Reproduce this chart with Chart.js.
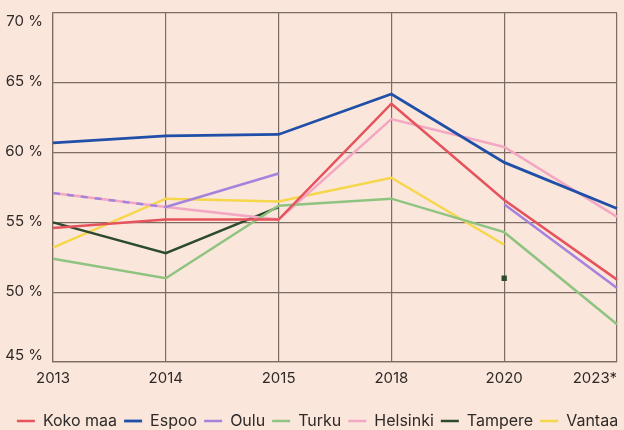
<!DOCTYPE html>
<html>
<head>
<meta charset="utf-8">
<script src="https://cdn.jsdelivr.net/npm/chart.js@4"></script>
<style>
  html, body { margin: 0; padding: 0; background: #fbe6dc; }
  #wrap { width: 624px; height: 430px; position: relative; }
</style>
</head>
<body>
<div id="wrap"><canvas id="myChart"></canvas></div>
<script>
// Vuodet ja sarjat
const vuodet = ['2013', '2014', '2015', '2018', '2020', '2023*'];
const kokoMaa = [54.6, 55.2, 55.2, 63.5, 56.6, 50.9];
const espoo = [60.7, 61.2, 61.3, 64.2, 59.3, 56.0];
const oulu = [57.1, 56.1, 58.5, null, 56.3, 50.3];
const turku = [52.4, 51.0, 56.2, 56.7, 54.3, 47.7];
const helsinki = [57.1, 56.1, 55.2, 62.4, 60.4, 55.4];
const tampere = [55.0, 52.8, 56.1, null, 51.0, null];
const vantaa = [53.2, 56.7, 56.5, 58.2, 53.4, null];
const yTicks = [45, 50, 55, 60, 65, 70];

const fontti = 'Inter, "Noto Sans", sans-serif';
const tekstiVari = '#2e2a28';
const gridVari = '#7c6c64';

// yksittäinen piste näkyviin, muuten ei pisteitä
function pisteKoko(ctx) {
  const d = ctx.dataset.data;
  const i = ctx.dataIndex;
  if (d[i] == null) return 0;
  const ed = i > 0 ? d[i - 1] : null;
  const se = i < d.length - 1 ? d[i + 1] : null;
  return (ed == null && se == null) ? 2 : 0;
}

function sarja(label, data, color, extra) {
  return Object.assign({
    label: label,
    data: data,
    borderColor: color,
    backgroundColor: color,
    borderWidth: 2.5,
    pointRadius: pisteKoko,
    pointStyle: 'rect',
    pointHoverRadius: 0,
    tension: 0,
    spanGaps: false
  }, extra || {});
}

// akselien tekstit itse: reunimmaiset tasataan sisäänpäin
const akseliTekstit = {
  id: 'akseliTekstit',
  afterLayout(chart) {
    // selite vähän alemmas ja oikealle
    const l = chart.legend;
    l.top += 9; l.bottom += 9;
    l.left += 9; l.right += 9;
  },
  afterDraw(chart) {
    const x = chart.scales.x;
    const y = chart.scales.y;
    const a = chart.chartArea;
    const c = chart.ctx;
    c.save();
    c.font = '15px ' + fontti;
    c.fillStyle = tekstiVari;
    c.textBaseline = 'middle';
    vuodet.forEach((v, i) => {
      c.textAlign = i === vuodet.length - 1 ? 'right' : 'center';
      c.fillText(v, x.getPixelForTick(i), a.bottom + 16);
    });
    c.textAlign = 'right';
    yTicks.forEach((v, i) => {
      let py = y.getPixelForValue(v);
      if (i === 0) py -= 7;
      else if (i === yTicks.length - 1) py += 8;
      else py -= 1;
      c.fillText(v + ' %', a.left - 10, py);
    });
    c.restore();
  }
};

let ctx = document.getElementById('myChart').getContext('2d');
let myChart = new Chart(ctx, {
  type: 'line',
  data: {
    labels: vuodet,
    datasets: [
      sarja('Koko maa', kokoMaa, '#e5535c'),
      sarja('Espoo', espoo, '#1f4fa6', { borderWidth: 2.8 }),
      sarja('Oulu', oulu, '#a583dc', {
        segment: { borderDash: s => s.p0DataIndex === 0 ? [7, 7] : undefined }
      }),
      sarja('Turku', turku, '#8fc480'),
      sarja('Helsinki', helsinki, '#f3a7c2'),
      sarja('Tampere', tampere, '#2c4a2e'),
      sarja('Vantaa', vantaa, '#f6d64a')
    ]
  },
  options: {
    responsive: true,
    maintainAspectRatio: false,
    animation: false,
    layout: { padding: { top: 13, right: 7, left: 0, bottom: 0 } },
    scales: {
      x: {
        offset: false,
        grid: { color: gridVari, lineWidth: 1.2, drawTicks: false },
        border: { color: gridVari, width: 1.2 },
        ticks: { display: false },
        afterFit: s => { s.height = 35; s.paddingLeft = 0; s.paddingRight = 0; }
      },
      y: {
        min: 45,
        max: 70,
        afterBuildTicks: s => { s.ticks = yTicks.map(v => ({ value: v })); },
        grid: { color: gridVari, lineWidth: 1.2, drawTicks: false },
        border: { color: gridVari, width: 1.2 },
        ticks: { display: false },
        afterFit: s => { s.width = 53; s.paddingTop = 0; s.paddingBottom = 0; }
      }
    },
    plugins: {
      tooltip: { enabled: false },
      legend: {
        position: 'bottom',
        labels: {
          usePointStyle: true,
          pointStyle: 'line',
          pointStyleWidth: 18,
          padding: 7,
          color: tekstiVari,
          font: { family: fontti, size: 16 }
        }
      }
    }
  },
  plugins: [akseliTekstit]
});
</script>
</body>
</html>
